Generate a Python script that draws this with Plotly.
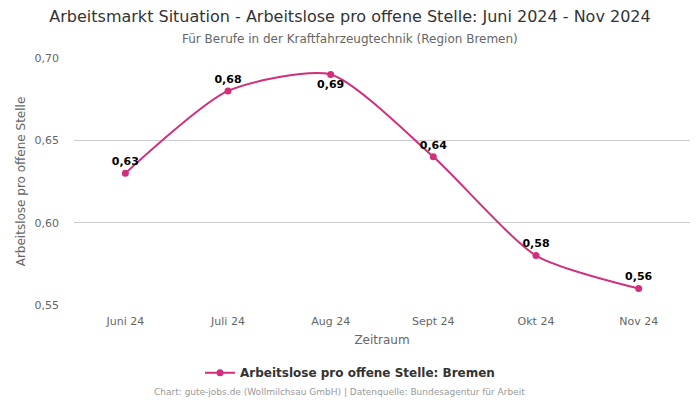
import plotly.graph_objects as go

months = ["Juni 24", "Juli 24", "Aug 24", "Sept 24", "Okt 24", "Nov 24"]
values = [0.63, 0.68, 0.69, 0.64, 0.58, 0.56]
label_pos = ["top center", "top center", "bottom center", "top center", "top center", "top center"]
y_ticks = [0.55, 0.60, 0.65, 0.70]

color = "#d12e7c"
font = "DejaVu Sans, Verdana, sans-serif"

fig = go.Figure()
fig.add_trace(go.Scatter(
    x=months, y=values,
    mode="lines+markers+text",
    line=dict(color=color, width=2, shape="spline", smoothing=0.65),
    marker=dict(color=color, size=7),
    text=[f"{v:.2f}".replace(".", ",") for v in values],
    textposition=label_pos,
    textfont=dict(family=font, size=11, color="#000000", weight="bold"),
    name="Arbeitslose pro offene Stelle: Bremen",
    cliponaxis=False,
))

fig.update_layout(
    width=700, height=400,
    margin=dict(l=74, r=10, t=58, b=95),
    paper_bgcolor="white", plot_bgcolor="white",
    font=dict(family=font, color="#666666"),
    title=dict(
        text="Arbeitsmarkt Situation - Arbeitslose pro offene Stelle: Juni 2024 - Nov 2024",
        xref="container", x=0.5, xanchor="center", y=0.958, yanchor="middle",
        font=dict(size=16, color="#333333", family=font),
    ),
    showlegend=True,
    legend=dict(
        orientation="h", xref="container", yref="container",
        x=0.5, xanchor="center", y=0.068, yanchor="middle",
        font=dict(size=12, color="#333333", family=font, weight="bold"),
        itemwidth=30,
    ),
    xaxis=dict(
        type="category", range=[-0.5, 5.5],
        showgrid=False, showline=False, zeroline=False,
        tickfont=dict(size=11, color="#666666"),
        ticklabelstandoff=8,
        title=dict(text="Zeitraum", font=dict(size=12, color="#666666"), standoff=8),
        ticks="", ticklen=0,
    ),
    yaxis=dict(
        range=[0.55, 0.70], tickvals=y_ticks,
        ticktext=[f"{v:.2f}".replace(".", ",") for v in y_ticks],
        showgrid=True, gridcolor="#cccccc", gridwidth=1,
        zeroline=False, showline=False,
        tickfont=dict(size=11, color="#666666"),
        ticklabelstandoff=14,
        title=dict(text="Arbeitslose pro offene Stelle", font=dict(size=12, color="#666666"), standoff=6),
    ),
    annotations=[
        dict(text="Für Berufe in der Kraftfahrzeugtechnik (Region Bremen)",
             xref="paper", yref="paper", x=(350 - 74) / 616, y=1.0, yshift=19,
             xanchor="center", yanchor="middle",
             showarrow=False, font=dict(size=12, color="#666666", family=font)),
        dict(text="Chart: gute-jobs.de (Wollmilchsau GmbH) | Datenquelle: Bundesagentur für Arbeit",
             xref="paper", yref="paper", x=(339 - 74) / 616, y=0, yshift=-87,
             xanchor="center", yanchor="middle",
             showarrow=False, font=dict(size=9, color="#999999", family=font)),
    ],
)

fig.write_html("out.html")
